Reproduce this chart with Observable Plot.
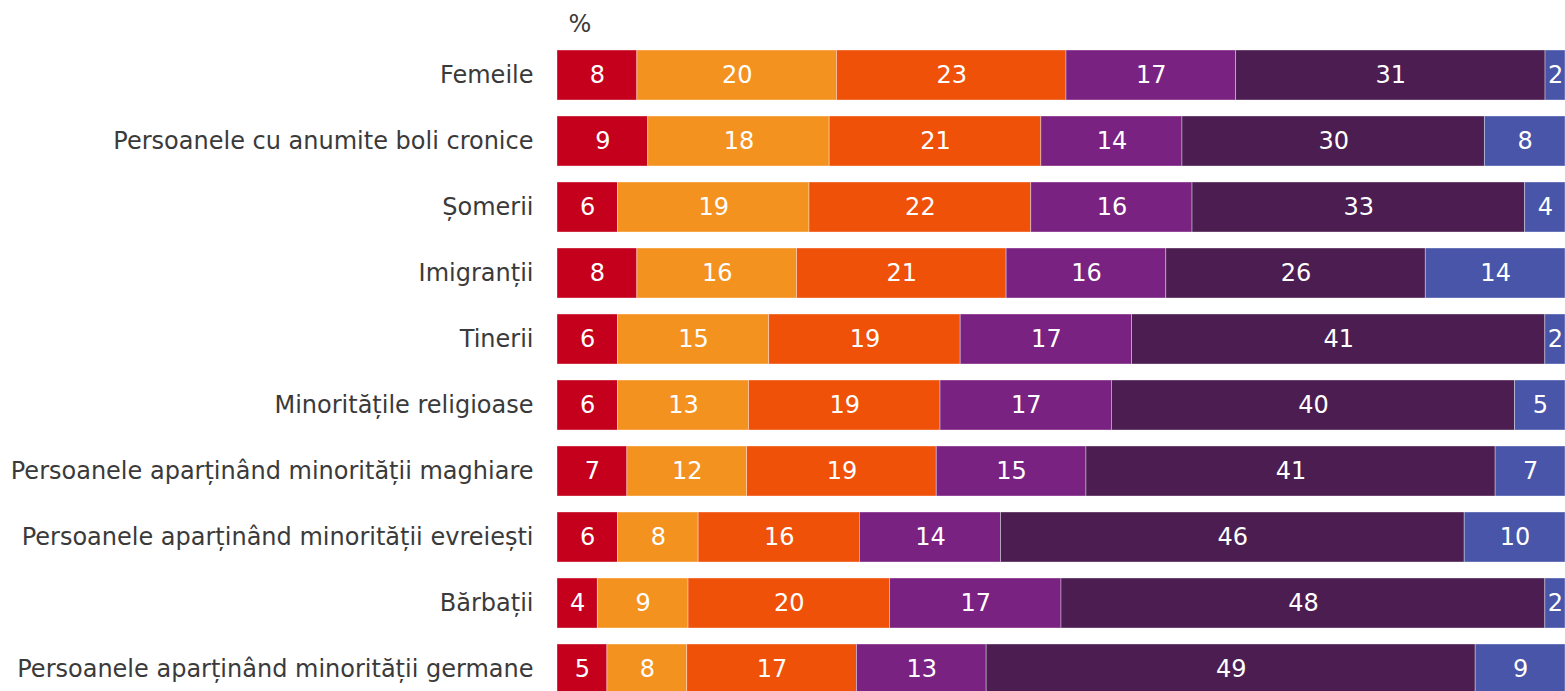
<!DOCTYPE html>
<html>
<head>
<meta charset="utf-8">
<script src="https://cdn.jsdelivr.net/npm/d3@7"></script>
<script src="https://cdn.jsdelivr.net/npm/@observablehq/plot@0.6"></script>
<style>
  html, body { margin: 0; padding: 0; background: #fff; overflow: hidden; }
</style>
</head>
<body>
<div id="chart"></div>
<script>
const categories = [
  "Femeile",
  "Persoanele cu anumite boli cronice",
  "Șomerii",
  "Imigranții",
  "Tinerii",
  "Minoritățile religioase",
  "Persoanele aparținând minorității maghiare",
  "Persoanele aparținând minorității evreiești",
  "Bărbații",
  "Persoanele aparținând minorității germane"
];
const seriesNames = ["s1", "s2", "s3", "s4", "s5", "s6"];
const s1 = [8, 9, 6, 8, 6, 6, 7, 6, 4, 5];
const s2 = [20, 18, 19, 16, 15, 13, 12, 8, 9, 8];
const s3 = [23, 21, 22, 21, 19, 19, 19, 16, 20, 17];
const s4 = [17, 14, 16, 16, 17, 17, 15, 14, 17, 13];
const s5 = [31, 30, 33, 26, 41, 40, 41, 46, 48, 49];
const s6 = [2, 8, 4, 14, 2, 5, 7, 10, 2, 9];
const colors = ["#c5001c", "#f4921f", "#f05109", "#7a2282", "#4b1d51", "#4855a8"];

const seriesValues = [s1, s2, s3, s4, s5, s6];
const data = [];
categories.forEach((c, i) => {
  seriesNames.forEach((s, j) => {
    data.push({category: c, series: s, value: seriesValues[j][i]});
  });
});

const stackOpts = {offset: "normalize", x: "value", y: "category", z: "series"};

const chart = Plot.plot({
  width: 1565,
  height: 696,
  marginLeft: 557,
  marginRight: 0,
  marginTop: 48,
  marginBottom: 0,
  style: {fontFamily: "DejaVu Sans", fontSize: "24px", color: "#3a3a3a", background: "#fff"},
  x: {axis: null, domain: [0, 1]},
  y: {domain: categories, paddingInner: 0.241, paddingOuter: 0, label: null},
  color: {domain: seriesNames, range: colors},
  marks: [
    Plot.axisY({tickSize: 0, tickPadding: 24, fontSize: 24, fill: "#3a3a3a", label: null}),
    Plot.barX(data, Plot.stackX({...stackOpts, fill: "series", stroke: "white", strokeOpacity: 0.45, strokeWidth: 0.8})),
    Plot.text(data, Plot.stackX({...stackOpts, text: "value", fill: "white", fontSize: 24})),
    Plot.text(["%"], {frameAnchor: "top-left", textAnchor: "start", lineAnchor: "bottom", dx: 11, dy: -17, fontSize: 24, fill: "#3a3a3a"})
  ]
});
document.getElementById("chart").appendChild(chart);
</script>
</body>
</html>
